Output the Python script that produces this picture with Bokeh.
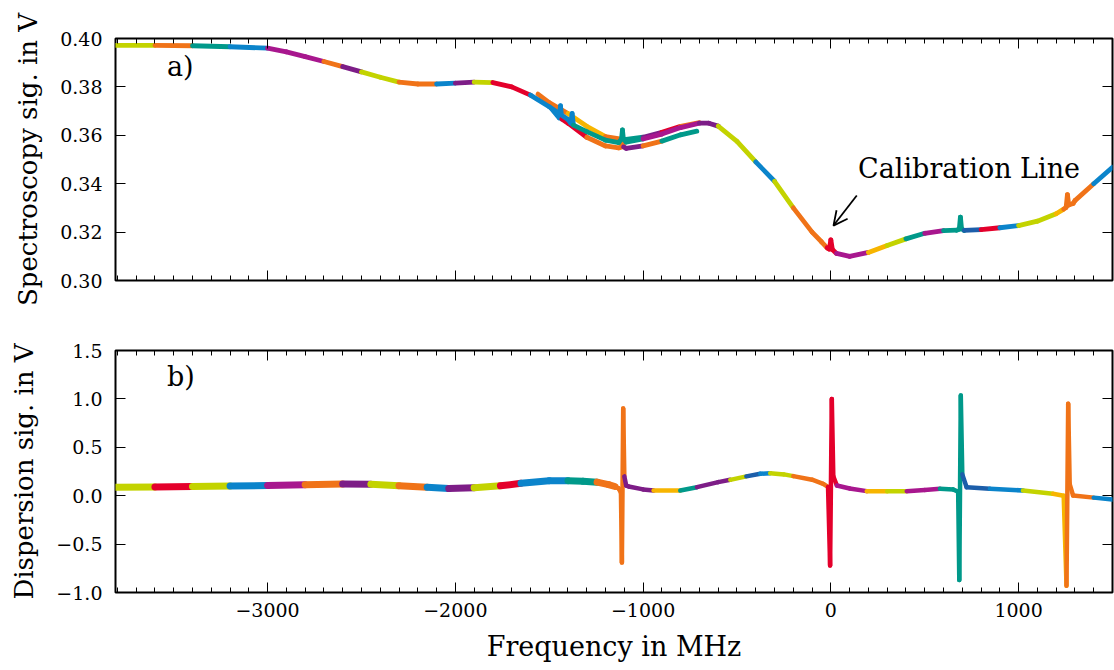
import numpy as np
from bokeh.plotting import figure
from bokeh.layouts import column
from bokeh.models import (FixedTicker, LinearAxis, CustomJSTickFormatter, Label,
                          Arrow, OpenHead, Range1d, ColumnDataSource)
from bokeh.embed import file_html
from bokeh.resources import INLINE

# ---------------- data ----------------
# Panel a) spectroscopy signal, main trace
top_f = [-3810, -3600, -3400, -3200, -3000, -2900, -2800, -2700, -2600, -2500,
         -2400, -2300, -2200, -2100, -2000, -1900, -1800, -1700, -1600, -1500,
         -1400, -1385, -1378, -1371, -1300, -1200, -1130, -1115, -1110, -1105,
         -1090, -1000, -900, -800, -700, -650, -600, -500, -400, -300,
         -200, -100, -50, -20, -8, 0, 8, 30, 100, 200,
         300, 400, 500, 600, 670, 684, 690, 696, 710, 800,
         900, 1000, 1100, 1200, 1240, 1253, 1260, 1267, 1290, 1300,
         1400, 1500]
top_v = [0.3972, 0.3972, 0.3970, 0.3966, 0.3960, 0.3945, 0.3925, 0.3905, 0.3884, 0.3862,
         0.3840, 0.3820, 0.3812, 0.3812, 0.3816, 0.3820, 0.3818, 0.3800, 0.3766, 0.3718,
         0.3665, 0.3650, 0.3690, 0.3642, 0.3615, 0.3580, 0.3570, 0.3585, 0.3622, 0.3585,
         0.3572, 0.3585, 0.3605, 0.3632, 0.3650, 0.3650, 0.3638, 0.3575, 0.3490, 0.3410,
         0.3300, 0.3200, 0.3160, 0.3135, 0.3130, 0.3168, 0.3128, 0.3112, 0.3100, 0.3116,
         0.3145, 0.3172, 0.3195, 0.3206, 0.3208, 0.3212, 0.3262, 0.3214, 0.3207, 0.3210,
         0.3218, 0.3227, 0.3245, 0.3276, 0.3295, 0.3302, 0.3355, 0.3312, 0.3318, 0.3330,
         0.3400, 0.3468]
# Panel a) lower shifted scans
lo_f = [-1490, -1447, -1440, -1433, -1400, -1300, -1200, -1130, -1116, -1110,
        -1104, -1090, -1000, -900, -800, -714]
lo_v = [0.3712, 0.3672, 0.3722, 0.3667, 0.3650, 0.3592, 0.3556, 0.3548, 0.3552, 0.3572,
        0.3552, 0.3546, 0.3556, 0.3576, 0.3602, 0.3617]
# Panel a) upper shifted scans
hi_f = [-1560, -1500, -1400, -1300, -1200, -1100, -1000, -900, -800, -700]
hi_v = [0.3770, 0.3735, 0.3690, 0.3637, 0.3595, 0.3582, 0.3592, 0.3612, 0.3637, 0.3652]

# Panel b) dispersion signal
bot_f = [-3810, -3600, -3400, -3200, -3000, -2800, -2600, -2450, -2300, -2150,
         -2035, -1900, -1760, -1650, -1500, -1400, -1320, -1245, -1184, -1150,
         -1130, -1118, -1113, -1106, -1100, -1090, -1077, -1000, -944, -802,
         -713, -600, -536, -450, -376, -323, -250, -200, -100, -41,
         -15, -4, 5, 13, 32, 100, 191, 300, 404, 500,
         581, 652, 678, 684, 692, 700, 723, 847, 1023, 1183,
         1240, 1255, 1264, 1272, 1290, 1400, 1500]
bot_v = [0.088, 0.090, 0.095, 0.100, 0.105, 0.113, 0.121, 0.118, 0.104, 0.088,
         0.074, 0.082, 0.102, 0.128, 0.155, 0.155, 0.150, 0.140, 0.115, 0.095,
         0.075, 0.030, -0.690, 0.900, 0.200, 0.105, 0.095, 0.065, 0.054, 0.054,
         0.088, 0.140, 0.164, 0.200, 0.226, 0.232, 0.220, 0.202, 0.165, 0.123,
         0.090, -0.720, 1.000, 0.200, 0.105, 0.075, 0.047, 0.045, 0.047, 0.058,
         0.071, 0.065, 0.040, -0.870, 1.035, 0.220, 0.088, 0.071, 0.054, 0.020,
         0.000, -0.930, 0.950, 0.120, 0.002, -0.020, -0.040]

# scan pieces: start frequency of each scan and its colour name
top_scan_start = [-3810, -3716, -3540, -3513, -3460, -3290, -3222, -3168, -3008, -2955,
                  -2742, -2636, -2460, -2253, -2147, -2041, -1934, -1758, -1636, -1350,
                  -1000, -710, -552, -449, -330, -150, -20, 65, 170, 300,
                  384, 459, 582, 706, 847, 870, 910, 1023, 1183, 1237, 1363]
top_scan_color = ["orange", "ygreen", "red", "orange", "teal", "blue", "yellow", "blue", "ygreen", "magenta",
                  "orange", "purple", "ygreen", "orange", "blue", "purple", "ygreen", "red", "blue", "teal",
                  "magenta", "purple", "ygreen", "blue", "ygreen", "orange", "red", "magenta", "yellow", "ygreen",
                  "teal", "magenta", "teal", "dblue", "red", "orange", "blue", "ygreen", "yellow", "orange", "blue"]
lo_scan_start = [-1490, -1420, -1300, -1104, -1000, -850]
lo_scan_color = ["blue", "red", "orange", "purple", "orange", "teal"]
hi_scan_start = [-1560, -1400, -1200, -1100, -1000, -850, -780]
hi_scan_color = ["orange", "yellow", "orange", "teal", "purple", "red", "orange"]

bot_scan_start = [-3810, -3740, -3540, -3450, -3311, -3240, -3190, -3024, -2955, -2796,
                  -2690, -2424, -2248, -2147, -2050, -1908, -1770, -1642, -1589, -1429,
                  -1254, -1100, -924, -764, -711, -520, -466, -376, -330, -200,
                  -20, 30, 193, 352, 390, 423, 582, 700, 847, 1023,
                  1183, 1258, 1363]
bot_scan_color = ["orange", "ygreen", "red", "teal", "ygreen", "yellow", "blue", "ygreen", "magenta", "orange",
                  "purple", "ygreen", "orange", "blue", "purple", "ygreen", "red", "dblue", "blue", "teal",
                  "orange", "purple", "yellow", "teal", "purple", "ygreen", "dblue", "blue", "ygreen", "orange",
                  "red", "magenta", "yellow", "ygreen", "teal", "magenta", "teal", "dblue", "blue", "ygreen",
                  "yellow", "orange", "blue"]

x_major = [-3000, -2000, -1000, 0, 1000]
x_minor = list(range(-3800, 1501, 100))
top_yticks = [0.30, 0.32, 0.34, 0.36, 0.38, 0.40]
bot_yticks = [-1.0, -0.5, 0.0, 0.5, 1.0, 1.5]

# annotation anchors (data coordinates)
calib_text_pos = (145, 0.3462)
calib_arrow = (138, 0.3351, 14, 0.3227)
label_a_pos = (-3536, 0.3884)
label_b_pos = (-3536, 1.230)

# ---------------- styles ----------------
PALETTE = {
    "orange": "#F07318", "red": "#E4002B", "yellow": "#F7B500", "ygreen": "#C3D300",
    "teal": "#00998A", "blue": "#0B84CB", "dblue": "#1C5EAA", "purple": "#7D1D87",
    "magenta": "#A8178E",
}
FONT = "DejaVu Serif"
XR = (-3810, 1500)
NOISY_BELOW = -1150   # scans left of this are noisier -> drawn thicker


def seg_source(f, v, starts, colors, thin, thick=None):
    f = np.asarray(f, dtype=float)
    v = np.asarray(v, dtype=float)
    mid = 0.5 * (f[:-1] + f[1:])
    idx = np.clip(np.searchsorted(starts, mid, side="right") - 1, 0, len(colors) - 1)
    widths = [thick if (thick is not None and m < NOISY_BELOW) else thin for m in mid]
    return ColumnDataSource(dict(x0=f[:-1], y0=v[:-1], x1=f[1:], y1=v[1:],
                                 color=[PALETTE[colors[i]] for i in idx], w=widths))


def style_axes(p, yticks, yfmt, show_x_labels):
    blank = CustomJSTickFormatter(code="return '';")
    xfmt = CustomJSTickFormatter(code="return (tick < 0 ? '\u2212' : '') + Math.abs(tick).toFixed(0);")
    xt = FixedTicker(ticks=x_major, minor_ticks=x_minor)
    yt = FixedTicker(ticks=yticks, minor_ticks=[])
    p.add_layout(LinearAxis(), "above")
    p.add_layout(LinearAxis(), "right")
    for ax in p.xaxis:
        ax.ticker = xt
    for ax in p.yaxis:
        ax.ticker = yt
    for ax in p.axis:
        ax.axis_line_color = None
        ax.major_tick_in = 10
        ax.major_tick_out = 0
        ax.minor_tick_in = 5
        ax.minor_tick_out = 0
        ax.major_tick_line_color = "black"
        ax.minor_tick_line_color = "black"
        ax.major_tick_line_width = 1
        ax.minor_tick_line_width = 1
        ax.major_label_text_font = FONT
        ax.major_label_text_font_size = "19px"
        ax.major_label_text_color = "black"
        ax.major_label_standoff = 13
        ax.axis_label_text_font = FONT
        ax.axis_label_text_font_style = "normal"
        ax.axis_label_text_color = "black"
        ax.formatter = blank
    p.yaxis[0].formatter = CustomJSTickFormatter(code=yfmt)
    if show_x_labels:
        p.below[0].formatter = xfmt
        p.below[0].major_label_standoff = 10
    p.grid.visible = False
    p.outline_line_color = "black"
    p.outline_line_width = 2
    p.outline_line_alpha = 1
    p.background_fill_color = "white"
    p.border_fill_color = "white"


# ---------------- panel a ----------------
p1 = figure(width=1114, height=314, x_range=Range1d(*XR), y_range=Range1d(0.30, 0.40),
            output_backend="svg", toolbar_location=None,
            min_border_left=115, min_border_right=2, min_border_top=38, min_border_bottom=34)
style_axes(p1, top_yticks, "return tick.toFixed(2);", False)
p1.yaxis[0].axis_label = "Spectroscopy sig. in V"
p1.yaxis[0].axis_label_text_font_size = "26px"
p1.yaxis[0].axis_label_standoff = 14

for f, v, s, c in [(hi_f, hi_v, hi_scan_start, hi_scan_color),
                   (lo_f, lo_v, lo_scan_start, lo_scan_color),
                   (top_f, top_v, top_scan_start, top_scan_color)]:
    p1.segment(x0="x0", y0="y0", x1="x1", y1="y1", line_color="color", line_width="w",
               line_cap="round", source=seg_source(f, v, s, c, 4.8))

p1.add_layout(Label(x=label_a_pos[0], y=label_a_pos[1], text="a)", text_font=FONT,
                    text_font_size="27px", text_baseline="alphabetic", text_color="black"))
p1.add_layout(Label(x=calib_text_pos[0], y=calib_text_pos[1], text="Calibration Line",
                    text_font=FONT, text_font_size="27px", text_baseline="alphabetic",
                    text_color="black"))
p1.add_layout(Arrow(end=OpenHead(size=14, line_width=1.8, line_color="black"),
                    x_start=calib_arrow[0], y_start=calib_arrow[1],
                    x_end=calib_arrow[2], y_end=calib_arrow[3],
                    line_width=1.8, line_color="black"))

# ---------------- panel b ----------------
p2 = figure(width=1114, height=356, x_range=p1.x_range, y_range=Range1d(-1.0, 1.5),
            output_backend="svg", toolbar_location=None,
            min_border_left=115, min_border_right=2, min_border_top=36, min_border_bottom=78)
style_axes(p2, bot_yticks,
           "return (tick < -1e-9 ? '\u2212' : '') + Math.abs(tick).toFixed(1);", True)
p2.yaxis[0].axis_label = "Dispersion sig. in V"
p2.yaxis[0].axis_label_text_font_size = "26px"
p2.yaxis[0].axis_label_standoff = 14
p2.below[0].axis_label = "Frequency in MHz"
p2.below[0].axis_label_text_font_size = "27px"
p2.below[0].axis_label_standoff = 11

p2.segment(x0="x0", y0="y0", x1="x1", y1="y1", line_color="color", line_width="w",
           line_cap="round", source=seg_source(bot_f, bot_v, bot_scan_start, bot_scan_color, 4.5, 7))

p2.add_layout(Label(x=label_b_pos[0], y=label_b_pos[1], text="b)", text_font=FONT,
                    text_font_size="27px", text_baseline="alphabetic", text_color="black"))

layout = column(p1, p2, spacing=0)
open("out.html", "w").write(file_html(layout, INLINE))
